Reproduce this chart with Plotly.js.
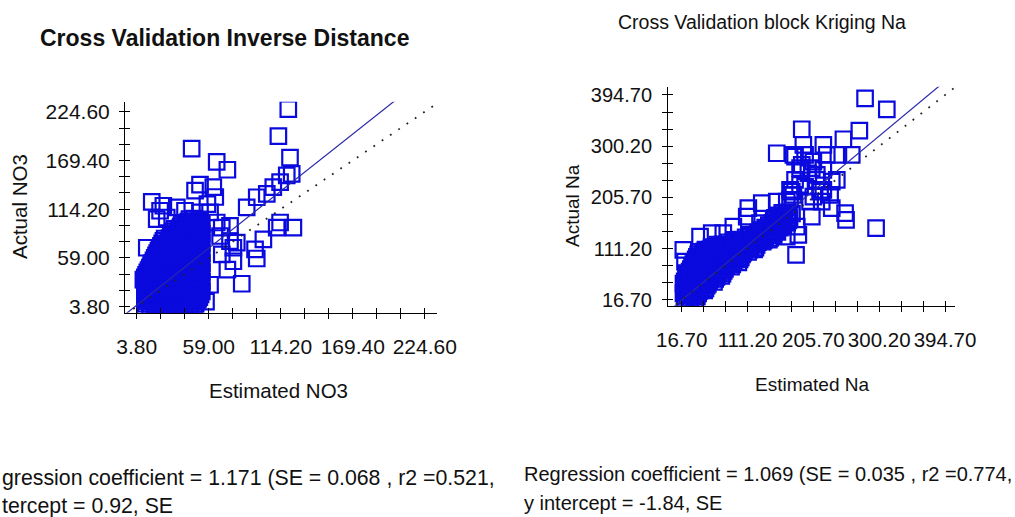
<!DOCTYPE html>
<html><head><meta charset="utf-8">
<script src="https://cdn.plot.ly/plotly-3.0.1.min.js"></script>
<style>html,body{margin:0;padding:0;background:#fff;}#chart{width:1015px;height:517px;}</style>
</head><body><div id="chart"></div>
<script>
// ---------- DATA ----------
// Left panel: Estimated NO3 (x) vs Actual NO3 (y)
const no3Points = [
[10,4],[13.8,3],[17.6,5],[21.4,4],[25.2,3],[29,5],[32.8,4],[36.6,3],[40.4,5],[44.2,4],[48,6],
[10.95,6.75],[14.75,7],[18.55,6.5],[22.35,6.75],[26.15,7],[29.95,6.5],[33.75,6.75],[37.55,7],[41.35,6.5],[45.15,6.75],[48.95,7],
[11.9,9.5],[15.7,10],[19.5,9],[23.3,9.5],[27.1,10],[30.9,9],[34.7,9.5],[38.5,10],[42.3,9],[46.1,9.5],[49.9,10],
[12.85,12.25],[16.65,12.5],[20.45,12],[24.25,12.25],[28.05,12.5],[31.85,12],[35.65,12.25],[39.45,12.5],[43.25,12],[47.05,12.25],[50.85,12.5],
[10,15],[13.8,15.5],[17.6,14.5],[21.4,15],[25.2,15.5],[29,14.5],[32.8,15],[36.6,15.5],[40.4,14.5],[44.2,15],[48,15.5],[51.8,14.5],
[10.95,17.75],[14.75,18],[18.55,17.5],[22.35,17.75],[26.15,18],[29.95,17.5],[33.75,17.75],[37.55,18],[41.35,17.5],[45.15,17.75],[48.95,18],[52.75,17.5],
[11.9,20.5],[15.7,20],[19.5,21],[23.3,20.5],[27.1,20],[30.9,21],[34.7,20.5],[38.5,20],[42.3,21],[46.1,20.5],[49.9,20],[53.7,21],
[12.85,23.25],[16.65,23.5],[20.45,23],[24.25,23.25],[28.05,23.5],[31.85,23],[35.65,23.25],[39.45,23.5],[43.25,23],[47.05,23.25],[50.85,23.5],
[10,26],[13.8,26.5],[17.6,25.5],[21.4,26],[25.2,26.5],[29,25.5],[32.8,26],[36.6,26.5],[40.4,25.5],[44.2,26],[48,26.5],[51.8,25.5],
[10.95,28.75],[14.75,29],[18.55,28.5],[22.35,28.75],[26.15,29],[29.95,28.5],[33.75,28.75],[37.55,29],[41.35,28.5],[45.15,28.75],[48.95,29],[52.75,28.5],
[11.9,31.5],[15.7,31],[19.5,32],[23.3,31.5],[27.1,31],[30.9,32],[34.7,31.5],[38.5,31],[42.3,32],[46.1,31.5],[49.9,31],[53.7,32],
[12.85,34.25],[16.65,34.5],[20.45,34],[24.25,34.25],[28.05,34.5],[31.85,34],[35.65,34.25],[39.45,34.5],[43.25,34],[47.05,34.25],[50.85,34.5],
[10,37],[13.8,37.5],[17.6,36.5],[21.4,37],[25.2,37.5],[29,36.5],[32.8,37],[36.6,37.5],[40.4,36.5],[44.2,37],[48,37.5],[51.8,36.5],
[10.95,39.75],[14.75,40],[18.55,39.5],[22.35,39.75],[26.15,40],[29.95,39.5],[33.75,39.75],[37.55,40],[41.35,39.5],[45.15,39.75],[48.95,40],[52.75,39.5],
[11.9,42.5],[15.7,42],[19.5,43],[23.3,42.5],[27.1,42],[30.9,43],[34.7,42.5],[38.5,42],[42.3,43],[46.1,42.5],[49.9,42],[53.7,43],
[12.85,45.25],[16.65,45.5],[20.45,45],[24.25,45.25],[28.05,45.5],[31.85,45],[35.65,45.25],[39.45,45.5],[43.25,45],[47.05,45.25],[50.85,45.5],
[13.8,48],[17.6,48.5],[21.4,47.5],[25.2,48],[29,48.5],[32.8,47.5],[36.6,48],[40.4,48.5],[44.2,47.5],[48,48],[51.8,48.5],
[14.75,50.75],[18.55,51],[22.35,50.5],[26.15,50.75],[29.95,51],[33.75,50.5],[37.55,50.75],[41.35,51],[45.15,50.5],[48.95,50.75],[52.75,51],
[15.7,53.5],[19.5,53],[23.3,54],[27.1,53.5],[30.9,53],[34.7,54],[38.5,53.5],[42.3,53],[46.1,54],[49.9,53.5],[53.7,53],
[16.65,56.25],[20.45,56.5],[24.25,56],[28.05,56.25],[31.85,56.5],[35.65,56],[39.45,56.25],[43.25,56.5],[47.05,56],[50.85,56.25],
[17.6,59],[21.4,59.5],[25.2,58.5],[29,59],[32.8,59.5],[36.6,58.5],[40.4,59],[44.2,59.5],[48,58.5],[51.8,59],
[18.55,61.75],[22.35,62],[26.15,61.5],[29.95,61.75],[33.75,62],[37.55,61.5],[41.35,61.75],[45.15,62],[48.95,61.5],[52.75,61.75],
[19.5,64.5],[23.3,64],[27.1,65],[30.9,64.5],[34.7,64],[38.5,65],[42.3,64.5],[46.1,64],[49.9,65],[53.7,64.5],
[20.45,67.25],[24.25,67.5],[28.05,67],[31.85,67.25],[35.65,67.5],[39.45,67],[43.25,67.25],[47.05,67.5],[50.85,67],
[21.4,70],[25.2,70.5],[29,69.5],[32.8,70],[36.6,70.5],[40.4,69.5],[44.2,70],[48,70.5],[51.8,69.5],
[22.35,72.75],[26.15,73],[29.95,72.5],[33.75,72.75],[37.55,73],[41.35,72.5],[45.15,72.75],[48.95,73],[52.75,72.5],
[23.3,75.5],[27.1,75],[30.9,76],[34.7,75.5],[38.5,75],[42.3,76],[46.1,75.5],[49.9,75],[53.7,76],
[24.25,78.25],[28.05,78.5],[31.85,78],[35.65,78.25],[39.45,78.5],[43.25,78],[47.05,78.25],[50.85,78.5],
[25.2,81],[29,81.5],[32.8,80.5],[36.6,81],[40.4,81.5],[44.2,80.5],[48,81],[51.8,81.5],
[29.95,83.75],[33.75,84],[37.55,83.5],[41.35,83.75],[45.15,84],[48.95,83.5],[52.75,83.75],
[30.9,86.5],[34.7,86],[38.5,87],[42.3,86.5],[46.1,86],[49.9,87],[53.7,86.5],
[31.85,89.25],[35.65,89.5],[39.45,89],[43.25,89.25],[47.05,89.5],[50.85,89],
[32.8,92],[36.6,92.5],[40.4,91.5],[44.2,92],[48,92.5],[51.8,91.5],
[37.55,94.75],[41.35,95],[45.15,94.5],[48.95,94.75],[52.75,95],
[38.5,97.5],[42.3,97],[46.1,98],[49.9,97.5],[53.7,97],
[43.25,100.25],[47.05,100.5],[50.85,100],
[44.2,103],[48,103.5],[51.8,102.5],
[120,227.5],[112.4,196.9],[45.9,182.9],[121.3,172.6],[65.1,167.7],[73.3,158.9],[122.6,154.3],
[118.8,152.4],[113.7,144.8],[108.5,139.1],[103.5,131.5],[95.8,127.7],[88.1,116.3],[15.3,122.5],
[24.2,118.1],[34.5,116.3],[48.5,135.2],[52.3,142],[62.5,139.1],[113.7,99.1],[123.9,93.4],
[111.1,93.4],[100.9,80],[94.5,68.6],[95.8,58.3],[84.3,29.7],[77.9,55.2],[75.3,78.1],[77.9,70.5],
[69,93.4],[69,62.9],[73.3,45.7],[60,28.6],[56.9,9.5],[47.2,15.2],[11.5,70.5],[8.9,34.3],
[21.7,112.4],[19.1,102.9],[26.8,104.8],[40.8,112.4],[52.3,110.5],[60,110.5],[65.1,99.1],
[75.3,95.2],[67.7,83.8],[80.5,76.3],[52.3,83.8],[58,120],[64,128]
];
const no3Estimated = no3Points.map(p => p[0]);
const no3Actual = no3Points.map(p => p[1]);

// Right panel: Estimated Na (x) vs Actual Na (y)
const naPoints = [
[21,15],[28,16],[35,14],
[22.75,19.5],[29.75,20],[36.75,19],
[24.5,24],[31.5,25],[38.5,23],
[19.25,28.5],[26.25,29],[33.25,28],[40.25,28.5],
[21,33],[28,34],[35,32],[42,33],[49,34],
[22.75,37.5],[29.75,38],[36.75,37],[43.75,37.5],[50.75,38],
[24.5,42],[31.5,43],[38.5,41],[45.5,42],[52.5,43],
[19.25,46.5],[26.25,47],[33.25,46],[40.25,46.5],[47.25,47],[54.25,46],
[21,51],[28,52],[35,50],[42,51],[49,52],[56,51],[63,50],
[22.75,55.5],[29.75,56],[36.75,55],[43.75,55.5],[50.75,56],[57.75,55],[64.75,55.5],
[24.5,60],[31.5,61],[38.5,59],[45.5,60],[52.5,61],[59.5,60],[66.5,59],[73.5,61],
[26.25,64.5],[33.25,65],[40.25,64],[47.25,64.5],[54.25,65],[61.25,64],[68.25,64.5],[75.25,65],
[28,69],[35,70],[42,68],[49,69],[56,70],[63,69],[70,68],[77,70],
[29.75,73.5],[36.75,74],[43.75,73],[50.75,73.5],[57.75,74],[64.75,73],[71.75,73.5],[78.75,74],
[31.5,78],[38.5,79],[45.5,77],[52.5,78],[59.5,79],[66.5,78],[73.5,77],[80.5,79],[87.5,78],
[33.25,82.5],[40.25,83],[47.25,82],[54.25,82.5],[61.25,83],[68.25,82],[75.25,82.5],[82.25,83],[89.25,82],
[35,87],[42,88],[49,86],[56,87],[63,88],[70,87],[77,86],[84,88],[91,87],[98,86],
[36.75,91.5],[43.75,92],[50.75,91],[57.75,91.5],[64.75,92],[71.75,91],[78.75,91.5],[85.75,92],[92.75,91],[99.75,91.5],
[38.5,96],[45.5,97],[52.5,95],[59.5,96],[66.5,97],[73.5,96],[80.5,95],[87.5,97],[94.5,96],[101.5,95],
[40.25,100.5],[47.25,101],[54.25,100],[61.25,100.5],[68.25,101],[75.25,100],[82.25,100.5],[89.25,101],[96.25,100],[103.25,100.5],
[42,105],[49,106],[56,104],[63,105],[70,106],[77,105],[84,104],[91,106],[98,105],[105,104],[112,105],
[50.75,109.5],[57.75,110],[64.75,109],[71.75,109.5],[78.75,110],[85.75,109],[92.75,109.5],[99.75,110],[106.75,109],[113.75,109.5],[120.75,110],
[59.5,114],[66.5,115],[73.5,113],[80.5,114],[87.5,115],[94.5,114],[101.5,113],[108.5,115],[115.5,114],[122.5,113],
[68.25,118.5],[75.25,119],[82.25,118],[89.25,118.5],[96.25,119],[103.25,118],[110.25,118.5],[117.25,119],[124.25,118],
[84,123],[91,124],[98,122],[105,123],[112,124],[119,122],[126,123],[133,124],
[92.75,127.5],[99.75,128],[106.75,127],[113.75,127.5],[120.75,128],[127.75,127],[134.75,127.5],[141.75,128],
[108.5,132],[115.5,133],[122.5,131],[129.5,132],[136.5,133],[143.5,131],
[113.75,136.5],[120.75,137],[127.75,136],[134.75,136.5],[141.75,137],[148.75,136],
[126,141],[133,142],[140,140],[147,141],[154,142],
[131.25,145.5],[138.25,146],[145.25,145],[152.25,145.5],
[136.5,150],[143.5,151],[150.5,149],[157.5,150],
[141.75,154.5],[148.75,155],[155.75,154],[162.75,154.5],
[147,159],[154,160],[161,158],[168,159],
[148.75,163.5],[155.75,164],[162.75,163],[169.75,163.5],
[150.5,168],[157.5,169],[164.5,167],[171.5,168],
[155.75,172.5],[162.75,173],[169.75,172],
[161,177],[168,178],[175,176],
[179.4,281],[193.8,284.1],[205.7,271.7],[186.6,259.6],[198.5,250.3],[220,256.4],[179.4,238],
[210.6,238],[232.1,234.9],[193.8,225.6],[220,219.5],[177,210.3],[205.7,207.2],[239.3,238],
[224.9,284.1],[191.3,302.5],[220,302.5],[248.8,313],[260.8,284.1],[241.6,284.1],[251.2,176.6],
[252.6,164.2],[232.1,185.8],[203.4,170.3],[181.8,151.9],[184.1,136.6],[180.8,99.7],[295.7,148.9],
[153.1,287.2],[189,331.5],[271.7,328.9],[279.9,388.6],[311.1,368.3],[172.2,219.5],[172.2,201.1],
[153.1,198],[131.6,195],[112.3,185.8],[110,170.3],[129.1,158.1],[90.8,151.9],[76.4,139.7],
[59.8,139.7],[43,133.4],[19,108.9],[21.4,87.3],[23.9,65.9],[148.2,139.7],[157.9,151.9],
[167.5,133.4],[177,284.1],[189,265.6],[203.4,259.6],[210.6,247.2],[186.6,228.8],[174.7,216.4],
[215.3,216.4],[229.7,210.3],[167.5,198],[200.9,198],[217.7,198]
];
const naEstimated = naPoints.map(p => p[0]);
const naActual = naPoints.map(p => p[1]);

// Regression statistics (from the captions)
const no3Slope = 1.171, no3Intercept = 0.92;
const naSlope = 1.069, naIntercept = -1.84;

// Tick values / labels
const no3TickVals = [3.8, 59.0, 114.2, 169.4, 224.6];
const no3TickText = ["3.80", "59.00", "114.20", "169.40", "224.60"];
const naTickVals = [16.7, 111.2, 205.7, 300.2, 394.7];
const naTickText = ["16.70", "111.20", "205.70", "300.20", "394.70"];

// Axis ranges
const no3XRange = [-5.2, 234], no3YRange = [-3.1, 236];
const naXRange = [-3.0, 409], naYRange = [5.9, 410];

// Texts (the left caption is cut at the picture's left edge in the reference)
const titleLeft = "<b>Cross Validation Inverse Distance</b>";
const titleRight = "Cross Validation block Kriging Na";
const xTitleLeft = "Estimated NO3", yTitleLeft = "Actual NO3";
const xTitleRight = "Estimated Na", yTitleRight = "Actual Na";
const captionLeft1 = "gression coefficient = 1.171 (SE = 0.068 , r2 =0.521,";
const captionLeft2 = "tercept = 0.92, SE";
const captionRight1 = "Regression coefficient = 1.069 (SE = 0.035 , r2 =0.774,";
const captionRight2 = "y intercept = -1.84, SE";

// ---------- LAYOUT ----------
const W = 1015, H = 517;
const px = v => v / W, py = v => 1 - v / H;
const FONT = '"Liberation Sans", Arial, sans-serif';
const BLUE = 'rgb(10,10,222)';

function lineXY(range, slope, icpt) {
  return { x: [range[0], range[1]], y: [slope * range[0] + icpt, slope * range[1] + icpt] };
}
const reg1 = lineXY(no3XRange, no3Slope, no3Intercept);
const reg2 = lineXY(naXRange, naSlope, naIntercept);

const markerStyle = { symbol: 'square-open', size: 15.5, color: BLUE, line: { width: 2.2, color: BLUE } };
const regLine = { color: 'rgb(40,40,170)', width: 1.2 };
const oneLine = { color: '#222', width: 1.8, dash: '1.8px,8.2px' };

const traces = [
  { type: 'scatter', mode: 'markers', x: no3Estimated, y: no3Actual, xaxis: 'x', yaxis: 'y', marker: markerStyle, hoverinfo: 'skip' },
  { type: 'scatter', mode: 'lines', x: reg1.x, y: reg1.y, xaxis: 'x3', yaxis: 'y3', line: regLine },
  { type: 'scatter', mode: 'lines', x: no3XRange, y: no3XRange, xaxis: 'x3', yaxis: 'y3', line: oneLine },
  { type: 'scatter', mode: 'markers', x: naEstimated, y: naActual, xaxis: 'x2', yaxis: 'y2', marker: markerStyle, hoverinfo: 'skip' },
  { type: 'scatter', mode: 'lines', x: reg2.x, y: reg2.y, xaxis: 'x4', yaxis: 'y4', line: regLine },
  { type: 'scatter', mode: 'lines', x: naXRange, y: naXRange, xaxis: 'x4', yaxis: 'y4', line: oneLine }
];

function mainAxis(domain, range, vals, text, minorStep, anchor, standoff, fsize) {
  return {
    domain, range, anchor, autorange: false, fixedrange: true,
    tickmode: 'array', tickvals: vals, ticktext: text,
    ticks: 'outside', ticklen: 5, tickwidth: 1, tickcolor: '#000',
    showline: true, linecolor: '#000', linewidth: 1,
    showgrid: false, zeroline: false, tickfont: { family: FONT, size: fsize, color: '#111' }, ticklabelstandoff: standoff,
    minor: { tickmode: 'linear', tick0: vals[0], dtick: minorStep, ticks: 'outside', ticklen: 5, tickwidth: 1, tickcolor: '#000', showgrid: false }
  };
}
function overlayAxis(over, anchor, range, vals, minorStep) {
  return {
    overlaying: over, anchor, range, autorange: false, fixedrange: true,
    tickmode: 'array', tickvals: vals, ticktext: vals.map(() => ''),
    ticks: 'inside', ticklen: 5, tickwidth: 1, tickcolor: '#000',
    showline: false, showgrid: false, zeroline: false, showticklabels: false,
    minor: { tickmode: 'linear', tick0: vals[0], dtick: minorStep, ticks: 'inside', ticklen: 5, tickwidth: 1, tickcolor: '#000', showgrid: false }
  };
}

const leftX = [px(125), px(437)], leftY = [py(312.7), py(101.7)];
const rightX = [px(668), px(955)], rightY = [py(305.7), py(86.7)];

const ann = (text, x, y, size, opts) => Object.assign({ text, x: px(x), y: py(y), xref: 'paper', yref: 'paper', showarrow: false, xanchor: 'center', yanchor: 'middle', font: { family: FONT, size, color: '#111' } }, opts || {});

const layout = {
  width: W, height: H, margin: { l: 0, r: 0, t: 0, b: 0 },
  paper_bgcolor: '#fff', plot_bgcolor: 'rgba(0,0,0,0)', showlegend: false,
  xaxis: mainAxis(leftX, no3XRange, no3TickVals, no3TickText, 18.4, 'y', 10, 21),
  yaxis: mainAxis(leftY, no3YRange, no3TickVals, no3TickText, 18.4, 'x', 5, 21),
  xaxis3: overlayAxis('x', 'y', no3XRange, no3TickVals, 18.4),
  yaxis3: overlayAxis('y', 'x', no3YRange, no3TickVals, 18.4),
  xaxis2: mainAxis(rightX, naXRange, naTickVals, naTickText, 31.5, 'y2', 11, 20.5),
  yaxis2: mainAxis(rightY, naYRange, naTickVals, naTickText, 31.5, 'x2', 6, 20),
  xaxis4: overlayAxis('x2', 'y2', naXRange, naTickVals, 31.5),
  yaxis4: overlayAxis('y2', 'x2', naYRange, naTickVals, 31.5),
  annotations: [
    ann(titleLeft, 224, 38, 23),
    ann(titleRight, 761.5, 22, 19.5),
    ann(yTitleLeft, 20, 207, 20.5, { textangle: -90 }),
    ann(xTitleLeft, 278, 390, 20.5),
    ann(yTitleRight, 572, 206, 19, { textangle: -90 }),
    ann(xTitleRight, 811.5, 384, 19),
    ann(captionLeft1, 0, 478, 21.3, { xanchor: 'left' }),
    ann(captionLeft2, 0, 506, 21.3, { xanchor: 'left' }),
    ann(captionRight1, 522, 474, 20, { xanchor: 'left' }),
    ann(captionRight2, 522, 503, 20, { xanchor: 'left' })
  ]
};

Plotly.newPlot('chart', traces, layout, { displayModeBar: false, staticPlot: true });
</script>
</body></html>
